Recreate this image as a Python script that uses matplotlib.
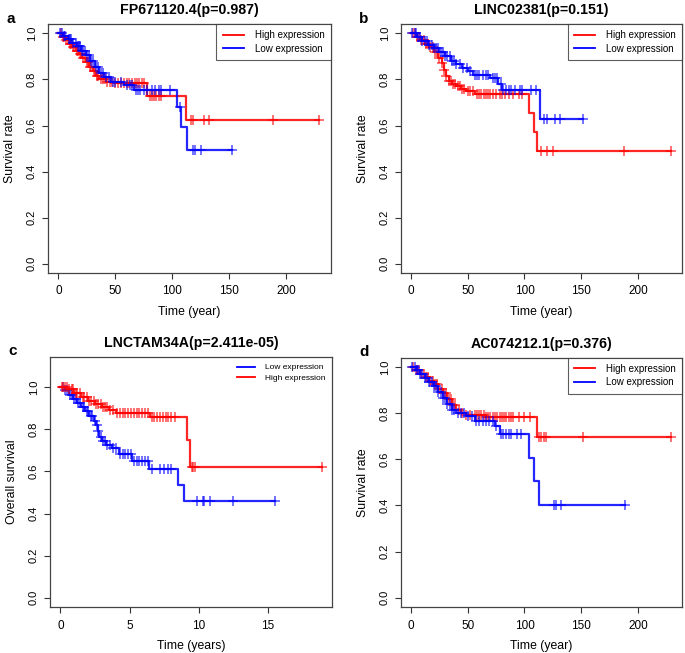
import numpy as np
import matplotlib
matplotlib.use("Agg")
from matplotlib import pyplot as plt

plt.rcParams['font.family'] = ['Liberation Sans', 'DejaVu Sans']

# ---- panel a : FP671120.4 ----
a_high_t = [0, 3, 6, 9, 12, 15, 18, 21, 24, 27, 30, 33, 36, 42, 50, 78, 112]
a_high_s = [1.0, 0.985, 0.97, 0.955, 0.94, 0.925, 0.91, 0.895, 0.875, 0.855, 0.835, 0.815, 0.80, 0.79, 0.785, 0.73, 0.625]
a_high_c = [2, 4, 5, 7, 8, 10, 11, 13, 14, 16, 17, 19, 20, 22, 23, 25, 26, 28, 29, 31, 32, 34, 35, 37, 39, 41,
            43, 45, 47, 50, 52, 55, 58, 60, 62, 65, 67, 69, 71, 73, 75, 80, 82, 84, 86, 88, 90, 116, 118, 128, 132, 188, 229]
a_low_t = [0, 4, 8, 12, 16, 20, 24, 28, 32, 36, 40, 46, 58, 66, 104, 108, 113]
a_low_s = [1.0, 0.99, 0.975, 0.96, 0.945, 0.925, 0.905, 0.88, 0.855, 0.83, 0.81, 0.79, 0.775, 0.755, 0.68, 0.595, 0.495]
a_low_c = [1, 3, 5, 6, 9, 10, 11, 13, 15, 17, 18, 19, 21, 22, 23, 25, 27, 29, 30, 33, 35, 37, 39, 42, 44, 48,
           50, 55, 60, 63, 65, 68, 70, 72, 75, 78, 82, 85, 88, 90, 98, 107, 118, 120, 125, 152]

# ---- panel b : LINC02381 ----
b_high_t = [0, 4, 8, 12, 16, 20, 24, 27, 29, 31, 33, 36, 40, 44, 48, 56, 104, 108, 111]
b_high_s = [1.0, 0.985, 0.97, 0.955, 0.94, 0.92, 0.895, 0.87, 0.84, 0.815, 0.795, 0.78, 0.77, 0.76, 0.75, 0.735, 0.655, 0.57, 0.49]
b_high_c = [2, 3, 5, 7, 9, 11, 13, 15, 17, 19, 21, 23, 25, 27, 29, 31, 33, 35, 37, 39, 41, 43, 45, 47, 50, 52,
            55, 58, 60, 62, 64, 66, 68, 70, 72, 75, 78, 80, 83, 86, 90, 95, 98, 115, 120, 125, 188, 229]
b_low_t = [0, 5, 10, 15, 20, 25, 30, 35, 40, 45, 50, 55, 70, 77, 80, 114]
b_low_s = [1.0, 0.985, 0.965, 0.95, 0.935, 0.92, 0.9, 0.88, 0.865, 0.85, 0.835, 0.82, 0.805, 0.78, 0.755, 0.63]
b_low_c = [1, 3, 4, 6, 8, 10, 12, 14, 16, 18, 20, 22, 24, 26, 28, 30, 32, 34, 36, 38, 40, 43, 46, 49, 52, 56,
           58, 60, 63, 66, 68, 72, 74, 76, 79, 81, 84, 86, 88, 92, 96, 98, 106, 110, 117, 120, 127, 131, 152]

# ---- panel c : LNCTAM34A ----
c_low_t = [0, 0.3, 0.6, 0.9, 1.2, 1.5, 1.8, 2.1, 2.4, 2.6, 2.7, 2.8, 3.0, 3.3, 3.7, 4.2, 5.2, 6.4, 8.5, 8.9]
c_low_s = [1.0, 0.985, 0.965, 0.945, 0.925, 0.905, 0.885, 0.865, 0.84, 0.82, 0.79, 0.765, 0.745, 0.725, 0.71,
           0.685, 0.65, 0.612, 0.536, 0.461]
c_low_c = [0.2, 0.35, 0.5, 0.7, 0.8, 1.0, 1.1, 1.3, 1.4, 1.6, 1.7, 1.9, 2.0, 2.2, 2.3, 2.5, 2.65, 2.75, 2.9,
           3.1, 3.2, 3.4, 3.6, 3.8, 4.0, 4.3, 4.5, 4.7, 4.9, 5.1, 5.3, 5.5, 5.7, 5.9, 6.1, 6.3, 6.6,
           7.2, 7.5, 7.8, 8.0, 9.9, 10.3, 10.4, 10.8, 12.5, 15.5]
c_high_t = [0, 0.5, 1.0, 1.5, 2.0, 2.5, 3.0, 3.5, 4.0, 6.5, 9.15, 9.4]
c_high_s = [1.0, 0.99, 0.975, 0.955, 0.935, 0.92, 0.905, 0.89, 0.877, 0.86, 0.75, 0.622]
c_high_c = [0.1, 0.2, 0.3, 0.45, 0.6, 0.8, 0.9, 1.1, 1.2, 1.4, 1.6, 1.7, 1.9, 2.1, 2.2, 2.4, 2.6, 2.7, 2.9,
            3.1, 3.2, 3.4, 3.6, 3.8, 4.1, 4.3, 4.5, 4.7, 4.9, 5.1, 5.3, 5.5, 5.7, 5.9, 6.1, 6.3, 6.6,
            6.8, 7.0, 7.2, 7.4, 7.6, 7.8, 8.0, 8.3, 9.5, 9.6, 9.7, 18.9]

# ---- panel d : AC074212.1 ----
d_high_t = [0, 4, 8, 12, 16, 20, 24, 28, 32, 36, 40, 44, 48, 66, 111]
d_high_s = [1.0, 0.985, 0.97, 0.955, 0.94, 0.925, 0.905, 0.885, 0.86, 0.835, 0.815, 0.80, 0.79, 0.782, 0.695]
d_high_c = [2, 4, 5, 7, 9, 11, 13, 15, 17, 19, 21, 23, 25, 27, 29, 31, 33, 35, 37, 39, 42, 45, 48, 52, 56,
            58, 60, 62, 64, 66, 68, 70, 72, 74, 76, 78, 80, 82, 84, 86, 88, 90, 95, 100, 105,
            113, 115, 117, 119, 152, 229]
d_low_t = [0, 4, 8, 12, 16, 20, 24, 28, 32, 36, 40, 48, 56, 74, 78, 104, 108, 113]
d_low_s = [1.0, 0.985, 0.97, 0.95, 0.935, 0.915, 0.89, 0.865, 0.84, 0.815, 0.80, 0.785, 0.765, 0.745,
           0.71, 0.606, 0.507, 0.40]
d_low_c = [1, 3, 5, 6, 8, 10, 12, 14, 16, 18, 20, 22, 24, 26, 28, 30, 32, 34, 36, 38, 41, 44, 47, 50, 54,
           57, 60, 63, 66, 69, 72, 75, 79, 81, 84, 86, 88, 93, 97, 126, 128, 132, 189]

RED = '#ff0000'
BLUE = '#0000ff'


def km(ax, t, s, cens, color, t_end):
    t = np.asarray(t, float)
    s = np.asarray(s, float)
    xs = np.append(t, t_end)
    ys = np.append(s, s[-1])
    ax.step(xs, ys, where='post', color=color, lw=1.6, alpha=0.85)
    cens = np.asarray(cens, float)
    cy = s[np.searchsorted(t, cens, side='right') - 1]
    ax.plot(cens, cy, ls='none', marker='+', ms=7, mew=1.1, color=color, alpha=0.7)


def style(ax, title, letter, ylab, xlab, xticks, xmax, ymax):
    ax.set_xlim(-0.04 * xmax, 1.04 * xmax)
    ax.set_ylim(-0.04 * ymax, 1.04 * ymax)
    ax.set_xticks(xticks)
    ax.set_yticks([0.0, 0.2, 0.4, 0.6, 0.8, 1.0])
    ax.set_yticklabels(['0.0', '0.2', '0.4', '0.6', '0.8', '1.0'], rotation=90, va='center')
    ax.tick_params(direction='out', length=4, width=0.8, labelsize=8, color='#333333')
    ax.tick_params(axis='x', labelsize=8.5, pad=5)
    ax.tick_params(axis='y', pad=4)
    for sp in ax.spines.values():
        sp.set_color('#444444')
        sp.set_linewidth(0.9)
    ax.set_title(title, fontsize=10.2, fontweight='bold', pad=7)
    ax.set_ylabel(ylab, fontsize=8.8, labelpad=8)
    ax.set_xlabel(xlab, fontsize=8.8, labelpad=6)
    ax.text(-0.148, 1.022, letter, transform=ax.transAxes, fontsize=11, fontweight='bold', va='center')


fig = plt.figure(figsize=(6.85, 6.53), dpi=100)
ax_a = fig.add_axes([0.070, 0.582, 0.413, 0.381])
ax_b = fig.add_axes([0.585, 0.582, 0.411, 0.381])
ax_c = fig.add_axes([0.073, 0.0704, 0.412, 0.383])
ax_d = fig.add_axes([0.585, 0.0704, 0.411, 0.382])

for ax, ht, hs, hc, lt, ls_, lc, ttl, let in [
        (ax_a, a_high_t, a_high_s, a_high_c, a_low_t, a_low_s, a_low_c, 'FP671120.4(p=0.987)', 'a'),
        (ax_b, b_high_t, b_high_s, b_high_c, b_low_t, b_low_s, b_low_c, 'LINC02381(p=0.151)', 'b'),
        (ax_d, d_high_t, d_high_s, d_high_c, d_low_t, d_low_s, d_low_c, 'AC074212.1(p=0.376)', 'd')]:
    km(ax, ht, hs, hc, RED, max(hc))
    km(ax, lt, ls_, lc, BLUE, max(lc))
    style(ax, ttl, let, 'Survival rate', 'Time (year)', [0, 50, 100, 150, 200], 230, 1.0)
    h1, = ax.plot([], [], color=RED, lw=1.3)
    h2, = ax.plot([], [], color=BLUE, lw=1.3)
    leg = ax.legend([h1, h2], ['High expression', 'Low expression'], loc='upper right',
                    fontsize=7, frameon=True, fancybox=False, borderaxespad=0,
                    handlelength=2.2, handletextpad=1.1, borderpad=0.65, labelspacing=0.35)
    leg.get_frame().set_edgecolor('#333333')
    leg.get_frame().set_linewidth(0.8)

km(ax_c, c_low_t, c_low_s, c_low_c, BLUE, max(c_low_c))
km(ax_c, c_high_t, c_high_s, c_high_c, RED, max(c_high_c))
style(ax_c, 'LNCTAM34A(p=2.411e-05)', 'c', 'Overall survival', 'Time (years)', [0, 5, 10, 15], 18.9, 1.1)
ax_c.set_ylim(-0.044, 1.144)
h1, = ax_c.plot([], [], color=BLUE, lw=1.3)
h2, = ax_c.plot([], [], color=RED, lw=1.3)
ax_c.legend([h1, h2], ['Low expression', 'High expression'], loc='upper right', fontsize=6,
            frameon=False, handlelength=2.2, handletextpad=1.2, labelspacing=0.3,
            borderaxespad=0.4)

fig.savefig('out.png', dpi=100)
